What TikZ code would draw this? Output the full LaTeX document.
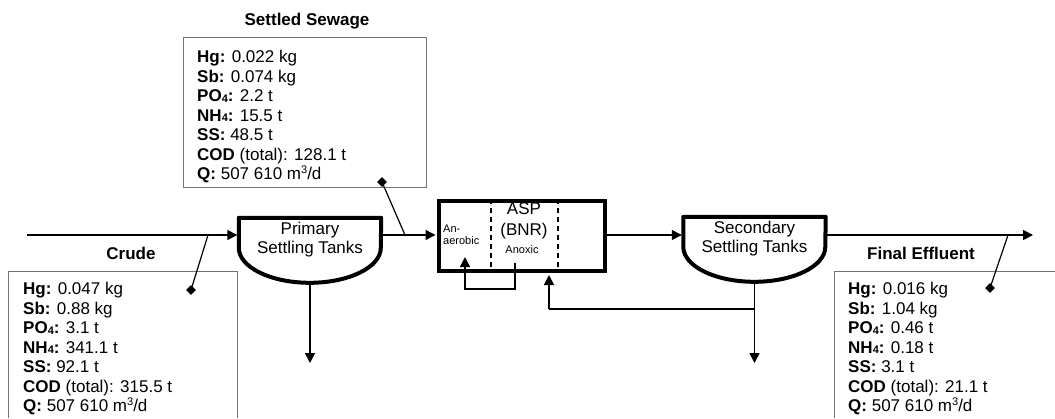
\documentclass[tikz,border=0pt]{standalone}
\usepackage{fontspec}
\setmainfont{Liberation Sans}
\usetikzlibrary{arrows.meta}
\newcommand\subq[1]{\raisebox{-0.5pt}{\fontsize{11}{11}\selectfont #1}}
\newcommand\supq[1]{\raisebox{6pt}{\fontsize{11}{11}\selectfont #1}}
\begin{document}
\begin{tikzpicture}[x=1pt,y=1pt,
  flow/.style={line width=1.5pt,-{Triangle[length=10pt,width=10pt]}},
  plain/.style={line width=1.5pt},
  tank/.style={line width=4pt, line join=round},
  tanktext/.style={minimum width=142pt, minimum height=44pt, inner sep=0pt, align=center, font=\fontsize{17}{19}\selectfont},
  infobox/.style={draw=black!55, line width=1pt},
  info/.style={anchor=north west, inner sep=0pt, align=left, font=\fontsize{17}{19.5}\selectfont},
  label/.style={font=\bfseries\fontsize{17}{20}\selectfont, inner sep=0pt},
  pinline/.style={line width=1.2pt},
  pinhead/.style={fill, minimum size=7pt, inner sep=0pt, rotate=45},
  small/.style={font=\fontsize{11}{12}\selectfont, inner sep=0pt},
  zone/.style={line width=1.2pt, dash pattern=on 5pt off 4pt}
]
\useasboundingbox (0,0) rectangle (1055,-418);
\fill[white] (0,0) rectangle (1055,-418);

% tanks
\node[tanktext] (pst) at (310,-240) {Primary\\Settling Tanks};
\draw[tank] (pst.north east) -- (pst.north west) -- ++(0,-30) arc[start angle=180,end angle=360,x radius=71,y radius=35] -- cycle;
\node[tanktext] (sst) at (754.5,-239) {Secondary\\Settling Tanks};
\draw[tank] (sst.north east) -- (sst.north west) -- ++(0,-30) arc[start angle=180,end angle=360,x radius=71,y radius=35] -- cycle;

% ASP
\node[draw, line width=4pt, minimum width=166pt, minimum height=70pt, inner sep=0pt] (asp) at (522,-236) {};
\draw[zone] ([xshift=-31pt]asp.north) -- ([xshift=-31pt]asp.south);
\draw[zone] ([xshift=36pt]asp.north) -- ([xshift=36pt]asp.south);
\node[font=\fontsize{17}{21}\selectfont, align=center, inner sep=0pt] (asptxt) at (524,-221) {ASP\\(BNR)};
\node[small] (anox) at (522,-250) {Anoxic};
\node[small, anchor=west, align=left] (anae) at (443,-235) {An-\\aerobic};

% main flow
\coordinate (src) at (27,-235);
\coordinate (out) at (1033,-235);
\draw[flow, shorten >=1.5pt] (src) -- (src -| pst.west);
\draw[flow, shorten >=1.5pt] (pst.east |- src) -- (asp.west |- src);
\draw[flow, shorten >=1.5pt] (asp.east |- src) -- (sst.west |- src);
\draw[flow] (sst.east |- src) -- (out);

% sludge outlets
\coordinate (pdown) at (310,-363);
\coordinate (sdown) at (754.5,-363);
\draw[flow] ([yshift=-21pt]pst.south) -- (pdown);
\draw[flow] ([yshift=-21pt]sst.south) -- (sdown);

% return sludge
\coordinate (ret) at (754.5,-309);
\coordinate (retc) at (549,-309);
\draw[plain] (ret) -- (retc);
\draw[flow, shorten >=2pt] (retc) -- (retc |- asp.south);

% internal recycle
\coordinate (ra) at (515,-263);
\coordinate (rb) at (465,-257);
\draw[flow] (ra) -- ++(0,-26) -| (rb);

% Crude box
\draw[infobox] (8,-418) -- (8,-271) -- (237,-271) -- (237,-418);
\node[label] (crude) at (131,-253) {Crude};
\node[info] (crtext) at (23,-282) {\textbf{Hg:} 0.047 kg\\
\textbf{Sb:} 0.88 kg\\
\textbf{PO\subq{4}:} 3.1 t\\
\textbf{NH\subq{4}:} 341.1 t\\
\textbf{SS:} 92.1 t\\
\textbf{COD} (total): 315.5 t\\
\textbf{Q:} 507 610 m\supq{3}/d};

% Settled sewage box
\node[infobox, minimum width=243pt, minimum height=150pt, anchor=north west, inner sep=0pt] (ssbox) at (183,-37) {};
\node[label] (sslab) at (307,-21) {Settled Sewage};
\node[info] (sstext) at (197,-50) {\textbf{Hg:} 0.022 kg\\
\textbf{Sb:} 0.074 kg\\
\textbf{PO\subq{4}:} 2.2 t\\
\textbf{NH\subq{4}:} 15.5 t\\
\textbf{SS:} 48.5 t\\
\textbf{COD} (total): 128.1 t\\
\textbf{Q:} 507 610 m\supq{3}/d};

% Final effluent box
\draw[infobox] (834,-418) -- (834,-271) -- (1055,-271);
\node[label] (felab) at (921,-253) {Final Effluent};
\node[info] (fetext) at (848,-282) {\textbf{Hg:} 0.016 kg\\
\textbf{Sb:} 1.04 kg\\
\textbf{PO\subq{4}:} 0.46 t\\
\textbf{NH\subq{4}:} 0.18 t\\
\textbf{SS:} 3.1 t\\
\textbf{COD} (total): 21.1 t\\
\textbf{Q:} 507 610 m\supq{3}/d};

% pins
\coordinate (p1) at (208,-235);
\node[pinhead] (d1) at (191,-290) {};
\draw[pinline] (p1) -- (d1.center);
\coordinate (p2) at (405,-235);
\node[pinhead] (d2) at (382,-182) {};
\draw[pinline] (p2) -- (d2.center);
\coordinate (p3) at (1008,-235);
\node[pinhead] (d3) at (990,-288) {};
\draw[pinline] (p3) -- (d3.center);
\end{tikzpicture}
\end{document}
